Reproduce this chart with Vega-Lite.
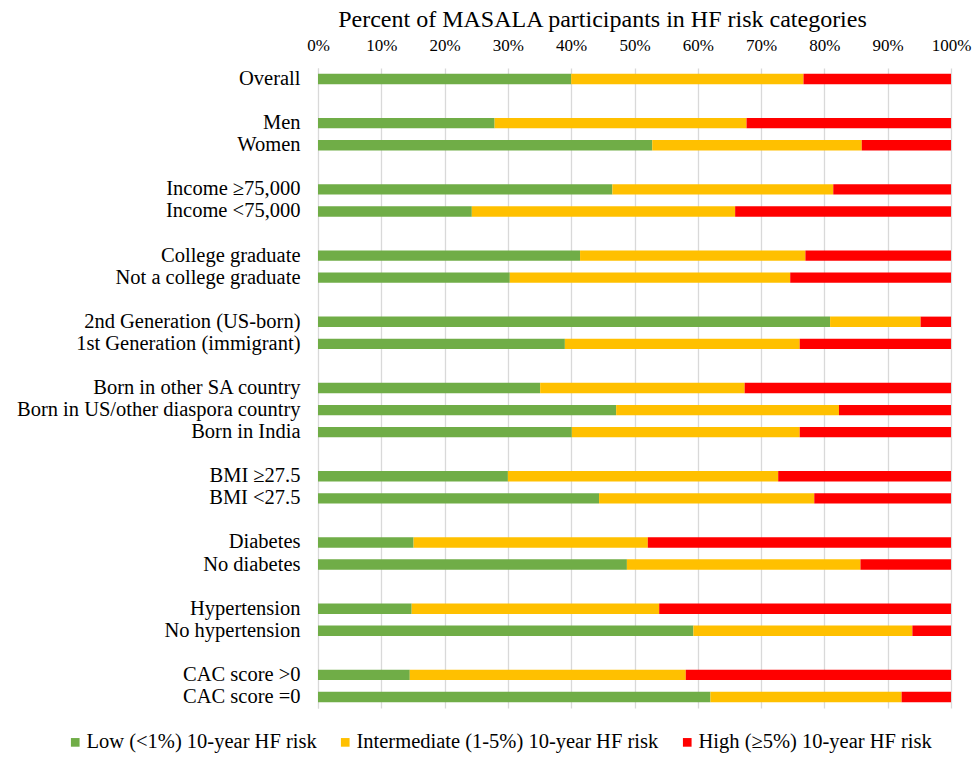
{
  "$schema": "https://vega.github.io/schema/vega-lite/v6.json",
  "autosize": {"type": "none"},
  "padding": {"left": 318, "top": 68, "right": 25, "bottom": 49},
  "width": 633,
  "height": 640,
  "background": "white",
  "config": {
    "font": "Liberation Serif",
    "view": {"stroke": null}
  },
  "data": {
    "values": [
      {"cat": "Overall", "risk": "Low (<1%) 10-year HF risk", "pct": 40.0},
      {"cat": "Overall", "risk": "Intermediate (1-5%) 10-year HF risk", "pct": 36.7},
      {"cat": "Overall", "risk": "High (≥5%) 10-year HF risk", "pct": 23.3},
      {"cat": "Men", "risk": "Low (<1%) 10-year HF risk", "pct": 27.9},
      {"cat": "Men", "risk": "Intermediate (1-5%) 10-year HF risk", "pct": 39.8},
      {"cat": "Men", "risk": "High (≥5%) 10-year HF risk", "pct": 32.3},
      {"cat": "Women", "risk": "Low (<1%) 10-year HF risk", "pct": 52.8},
      {"cat": "Women", "risk": "Intermediate (1-5%) 10-year HF risk", "pct": 33.1},
      {"cat": "Women", "risk": "High (≥5%) 10-year HF risk", "pct": 14.1},
      {"cat": "Income ≥75,000", "risk": "Low (<1%) 10-year HF risk", "pct": 46.5},
      {"cat": "Income ≥75,000", "risk": "Intermediate (1-5%) 10-year HF risk", "pct": 34.9},
      {"cat": "Income ≥75,000", "risk": "High (≥5%) 10-year HF risk", "pct": 18.6},
      {"cat": "Income <75,000", "risk": "Low (<1%) 10-year HF risk", "pct": 24.3},
      {"cat": "Income <75,000", "risk": "Intermediate (1-5%) 10-year HF risk", "pct": 41.6},
      {"cat": "Income <75,000", "risk": "High (≥5%) 10-year HF risk", "pct": 34.1},
      {"cat": "College graduate", "risk": "Low (<1%) 10-year HF risk", "pct": 41.4},
      {"cat": "College graduate", "risk": "Intermediate (1-5%) 10-year HF risk", "pct": 35.6},
      {"cat": "College graduate", "risk": "High (≥5%) 10-year HF risk", "pct": 23.0},
      {"cat": "Not a college graduate", "risk": "Low (<1%) 10-year HF risk", "pct": 30.3},
      {"cat": "Not a college graduate", "risk": "Intermediate (1-5%) 10-year HF risk", "pct": 44.3},
      {"cat": "Not a college graduate", "risk": "High (≥5%) 10-year HF risk", "pct": 25.4},
      {"cat": "2nd Generation (US-born)", "risk": "Low (<1%) 10-year HF risk", "pct": 80.9},
      {"cat": "2nd Generation (US-born)", "risk": "Intermediate (1-5%) 10-year HF risk", "pct": 14.3},
      {"cat": "2nd Generation (US-born)", "risk": "High (≥5%) 10-year HF risk", "pct": 4.8},
      {"cat": "1st Generation (immigrant)", "risk": "Low (<1%) 10-year HF risk", "pct": 39.0},
      {"cat": "1st Generation (immigrant)", "risk": "Intermediate (1-5%) 10-year HF risk", "pct": 37.1},
      {"cat": "1st Generation (immigrant)", "risk": "High (≥5%) 10-year HF risk", "pct": 23.9},
      {"cat": "Born in other SA country", "risk": "Low (<1%) 10-year HF risk", "pct": 35.1},
      {"cat": "Born in other SA country", "risk": "Intermediate (1-5%) 10-year HF risk", "pct": 32.3},
      {"cat": "Born in other SA country", "risk": "High (≥5%) 10-year HF risk", "pct": 32.6},
      {"cat": "Born in US/other diaspora country", "risk": "Low (<1%) 10-year HF risk", "pct": 47.1},
      {"cat": "Born in US/other diaspora country", "risk": "Intermediate (1-5%) 10-year HF risk", "pct": 35.2},
      {"cat": "Born in US/other diaspora country", "risk": "High (≥5%) 10-year HF risk", "pct": 17.7},
      {"cat": "Born in India", "risk": "Low (<1%) 10-year HF risk", "pct": 40.1},
      {"cat": "Born in India", "risk": "Intermediate (1-5%) 10-year HF risk", "pct": 36.0},
      {"cat": "Born in India", "risk": "High (≥5%) 10-year HF risk", "pct": 23.9},
      {"cat": "BMI ≥27.5", "risk": "Low (<1%) 10-year HF risk", "pct": 30.0},
      {"cat": "BMI ≥27.5", "risk": "Intermediate (1-5%) 10-year HF risk", "pct": 42.7},
      {"cat": "BMI ≥27.5", "risk": "High (≥5%) 10-year HF risk", "pct": 27.3},
      {"cat": "BMI <27.5", "risk": "Low (<1%) 10-year HF risk", "pct": 44.4},
      {"cat": "BMI <27.5", "risk": "Intermediate (1-5%) 10-year HF risk", "pct": 34.0},
      {"cat": "BMI <27.5", "risk": "High (≥5%) 10-year HF risk", "pct": 21.6},
      {"cat": "Diabetes", "risk": "Low (<1%) 10-year HF risk", "pct": 15.1},
      {"cat": "Diabetes", "risk": "Intermediate (1-5%) 10-year HF risk", "pct": 37.0},
      {"cat": "Diabetes", "risk": "High (≥5%) 10-year HF risk", "pct": 47.9},
      {"cat": "No diabetes", "risk": "Low (<1%) 10-year HF risk", "pct": 48.8},
      {"cat": "No diabetes", "risk": "Intermediate (1-5%) 10-year HF risk", "pct": 36.9},
      {"cat": "No diabetes", "risk": "High (≥5%) 10-year HF risk", "pct": 14.3},
      {"cat": "Hypertension", "risk": "Low (<1%) 10-year HF risk", "pct": 14.8},
      {"cat": "Hypertension", "risk": "Intermediate (1-5%) 10-year HF risk", "pct": 39.1},
      {"cat": "Hypertension", "risk": "High (≥5%) 10-year HF risk", "pct": 46.1},
      {"cat": "No hypertension", "risk": "Low (<1%) 10-year HF risk", "pct": 59.3},
      {"cat": "No hypertension", "risk": "Intermediate (1-5%) 10-year HF risk", "pct": 34.6},
      {"cat": "No hypertension", "risk": "High (≥5%) 10-year HF risk", "pct": 6.1},
      {"cat": "CAC score >0", "risk": "Low (<1%) 10-year HF risk", "pct": 14.5},
      {"cat": "CAC score >0", "risk": "Intermediate (1-5%) 10-year HF risk", "pct": 43.6},
      {"cat": "CAC score >0", "risk": "High (≥5%) 10-year HF risk", "pct": 41.9},
      {"cat": "CAC score =0", "risk": "Low (<1%) 10-year HF risk", "pct": 62.0},
      {"cat": "CAC score =0", "risk": "Intermediate (1-5%) 10-year HF risk", "pct": 30.2},
      {"cat": "CAC score =0", "risk": "High (≥5%) 10-year HF risk", "pct": 7.8}
    ]
  },
  "mark": {"type": "bar"},
  "encoding": {
    "y": {
      "field": "cat",
      "type": "nominal",
      "scale": {
        "domain": ["Overall", "sp1", "Men", "Women", "sp2", "Income ≥75,000", "Income <75,000", "sp3", "College graduate", "Not a college graduate", "sp4", "2nd Generation (US-born)", "1st Generation (immigrant)", "sp5", "Born in other SA country", "Born in US/other diaspora country", "Born in India", "sp6", "BMI ≥27.5", "BMI <27.5", "sp7", "Diabetes", "No diabetes", "sp8", "Hypertension", "No hypertension", "sp9", "CAC score >0", "CAC score =0"],
        "paddingInner": 0.53,
        "paddingOuter": 0.265
      },
      "axis": {
        "title": null,
        "ticks": false,
        "grid": false,
        "domain": true,
        "domainColor": "#D9D9D9",
        "labelFontSize": 20.5,
        "labelColor": "#000000",
        "labelPadding": 18,
        "labelLimit": 400,
        "labelExpr": "indexof(datum.label, 'sp') === 0 ? '' : datum.label"
      }
    },
    "x": {
      "field": "pct",
      "type": "quantitative",
      "stack": "normalize",
      "scale": {"domain": [0, 1]},
      "axis": {
        "orient": "top",
        "title": "Percent of MASALA participants  in HF risk categories",
        "titleFontSize": 24,
        "titleFontWeight": "normal",
        "titleColor": "#000000",
        "titlePadding": 5,
        "titleX": 284,
        "titleAlign": "center",
        "format": ".0%",
        "values": [0, 0.1, 0.2, 0.3, 0.4, 0.5, 0.6, 0.7, 0.8, 0.9, 1],
        "labelFontSize": 17,
        "labelColor": "#000000",
        "labelPadding": 14,
        "labelFlush": false,
        "ticks": false,
        "domain": false,
        "grid": true,
        "gridColor": "#D9D9D9",
        "gridWidth": 1.3
      }
    },
    "color": {
      "field": "risk",
      "type": "nominal",
      "scale": {
        "domain": ["Low (<1%) 10-year HF risk", "Intermediate (1-5%) 10-year HF risk", "High (≥5%) 10-year HF risk"],
        "range": ["#70AD47", "#FFC000", "#FF0000"]
      },
      "legend": {
        "title": null,
        "orient": "none",
        "direction": "horizontal",
        "legendX": -253,
        "legendY": 664,
        "symbolType": "square",
        "symbolSize": 75,
        "symbolStrokeWidth": 0,
        "labelFontSize": 20.5,
        "labelColor": "#000000",
        "labelOffset": 1,
        "columnPadding": 18,
        "labelLimit": 400
      }
    },
    "order": {"field": "risk", "sort": "descending"}
  }
}
